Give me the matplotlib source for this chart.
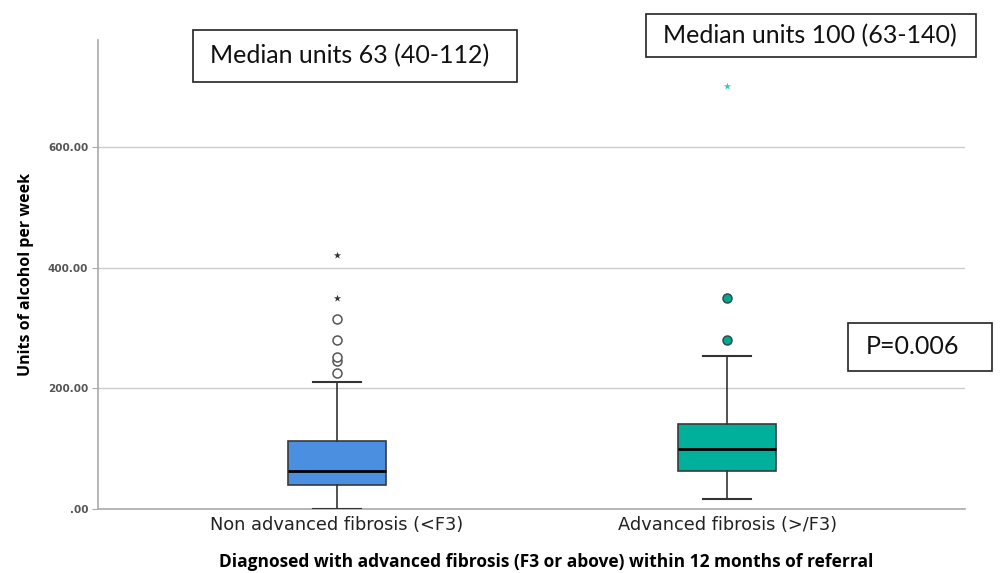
import matplotlib
matplotlib.use("Agg")
import matplotlib.pyplot as plt

# Units of alcohol per week by fibrosis status
categories = ["Non advanced fibrosis (<F3)", "Advanced fibrosis (>/F3)"]
medians = [63, 100]
q1 = [40, 63]
q3 = [112, 140]
whisker_low = [0, 16]
whisker_high = [210, 253]
outliers_circle = [[225, 245, 252, 280, 315], [280, 350]]
outliers_star = [[350, 420], [700]]
yticks = [0, 200, 400, 600]
ytick_labels = [".00", "200.00", "400.00", "600.00"]

box_colors = ["#4b8fe0", "#00b09a"]
circle_face = ["white", "#00a892"]
star_colors = ["#333333", "#3cc6b6"]

plt.rcParams["font.family"] = ["Open Sans", "DejaVu Sans"]

fig = plt.figure(figsize=(10.03, 5.73), dpi=100)
ax = fig.add_axes([98 / 1003, 1 - 509 / 573, 867 / 1003, 469 / 573])

stats = []
for i in range(len(categories)):
    stats.append(dict(med=medians[i], q1=q1[i], q3=q3[i],
                      whislo=whisker_low[i], whishi=whisker_high[i],
                      fliers=[], label=categories[i]))

pos = list(range(len(categories)))
bp = ax.bxp(stats, positions=pos, widths=0.252, patch_artist=True,
            showfliers=False,
            boxprops=dict(edgecolor="#3a3a3a", linewidth=1.2),
            medianprops=dict(color="black", linewidth=2),
            whiskerprops=dict(color="#333333", linewidth=1.2),
            capprops=dict(color="#333333", linewidth=1.5),
            capwidths=0.123, zorder=3)
for patch, c in zip(bp["boxes"], box_colors):
    patch.set_facecolor(c)

for i, p in enumerate(pos):
    ys = outliers_circle[i]
    ax.scatter([p] * len(ys), ys, s=42, facecolor=circle_face[i],
               edgecolor="#555555" if i == 0 else "#2d4f4a",
               linewidth=1.1, zorder=4)
    ys = outliers_star[i]
    ax.scatter([p] * len(ys), ys, s=30, marker="*", color=star_colors[i],
               linewidth=0, zorder=4)

ax.set_xlim(-0.613, 1.61)
ax.set_ylim(0, 777)
ax.set_yticks(yticks)
ax.set_yticklabels(ytick_labels, fontsize=7.5, fontweight="bold", color="#555555",
                   family="DejaVu Sans")
ax.set_xticks(pos)
ax.set_xticklabels(categories, fontsize=12.8, color="#222222", family="DejaVu Sans")
ax.tick_params(axis="x", length=0, pad=5)
ax.tick_params(axis="y", length=4, color="#aaaaaa", pad=3)
ax.yaxis.grid(True, color="#cccccc", linewidth=1)
ax.set_axisbelow(True)
for s in ["top", "right"]:
    ax.spines[s].set_visible(False)
for s in ["left", "bottom"]:
    ax.spines[s].set_color("#aaaaaa")
    ax.spines[s].set_linewidth(1.2)

ax.set_ylabel("Units of alcohol per week", fontsize=11.5, fontweight="bold")
ax.yaxis.set_label_coords(-(98 - 26) / 867, 0.5)
ax.set_xlabel("Diagnosed with advanced fibrosis (F3 or above) within 12 months of referral",
              fontsize=12.5, fontweight="bold")
ax.xaxis.set_label_coords((546 - 98) / 867, -(562 - 509) / 469)
ax.xaxis.label.set_va("center")
ax.yaxis.label.set_va("center")

# Annotation boxes
def boxed(text, x0, y0, x1, y1, dx=0):
    fig.patches.append(plt.Rectangle((x0 / 1003, 1 - y1 / 573),
                                     (x1 - x0) / 1003, (y1 - y0) / 573,
                                     transform=fig.transFigure, fill=True,
                                     facecolor="white", edgecolor="#222222",
                                     linewidth=1.2, zorder=5))
    fig.text(((x0 + x1) / 2 + dx) / 1003, 1 - (y0 + y1) / 2 / 573, text,
             ha="center", va="center", fontsize=18, color="#111111",
             family=["Lato", "DejaVu Sans"], zorder=6)

boxed("Median units 63 (40-112)", 193, 30, 517, 82, dx=-5)
boxed("Median units 100 (63-140)", 646, 14, 976, 57, dx=-1)
boxed("P=0.006", 848, 323, 992, 371, dx=-7)

fig.savefig("out.png", dpi=100)
